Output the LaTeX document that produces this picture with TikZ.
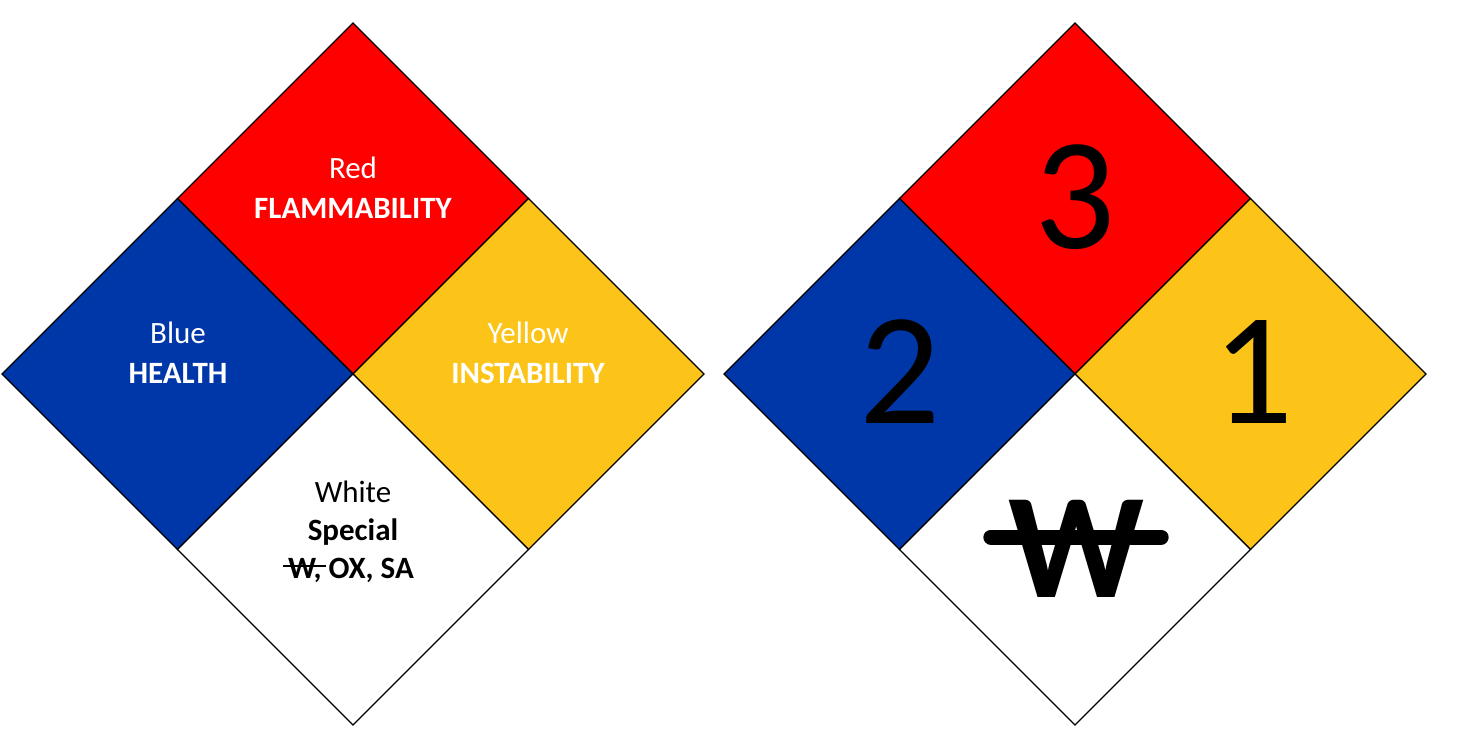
\documentclass[tikz,border=0pt]{standalone}
\usepackage{fontspec}
\setmainfont{Carlito}
\definecolor{nfred}{HTML}{FF0000}
\definecolor{nfblue}{HTML}{0037A8}
\definecolor{nfyellow}{HTML}{FCC419}
\newcommand{\strikeW}{\makebox[0pt][l]{\hspace{-0.17em}\rule[0.36em]{1.4em}{0.07em}}W}
\begin{document}
\begin{tikzpicture}[x=1pt,y=-1pt,
  sq/.style={draw=black,line width=1.3pt,line join=miter},
  lbl/.style={font=\fontsize{31}{36}\selectfont,inner sep=0pt,anchor=base},
  big/.style={font=\fontsize{160}{160}\selectfont,inner sep=0pt,anchor=base}]
\useasboundingbox (0,0) rectangle (1459,755);
\foreach \cx in {353,1075}{
  \filldraw[sq,fill=nfred]    (\cx,23) -- (\cx+175.5,198.5) -- (\cx,374) -- (\cx-175.5,198.5) -- cycle;
  \filldraw[sq,fill=nfblue]   (\cx-175.5,198.5) -- (\cx,374) -- (\cx-175.5,549.5) -- (\cx-351,374) -- cycle;
  \filldraw[sq,fill=nfyellow] (\cx+175.5,198.5) -- (\cx+351,374) -- (\cx+175.5,549.5) -- (\cx,374) -- cycle;
  \filldraw[sq,fill=white]    (\cx,374) -- (\cx+175.5,549.5) -- (\cx,725) -- (\cx-175.5,549.5) -- cycle;
}
% left labels
\node[lbl,text=white] (red1) at (353,178) {Red};
\node[lbl,text=white] (red2) at (353,218) {\bfseries FLAMMABILITY};
\node[lbl,text=white] (blue1) at (178,343) {Blue};
\node[lbl,text=white] (blue2) at (178,383) {\bfseries HEALTH};
\node[lbl,text=white] (yel1) at (528,343) {Yellow};
\node[lbl,text=white] (yel2) at (528,383) {\bfseries INSTABILITY};
\node[lbl] (wh1) at (353,502) {White};
\node[lbl] (wh2) at (353,540) {\bfseries Special};
\node[lbl] (wh3) at (351,578) {\bfseries\strikeW, OX, SA};
% right numbers
\node[big] (n3) at (1075,248) {3};
\node[big] (n2) at (900,423) {2};
\node[big] (n1) at (1253,423) {1};
\node[big] (nw) at (1076,597) {\fontsize{150}{150}\selectfont\bfseries W};
\draw[line width=15pt,line cap=round] (nw.base west) ++(-17,-60) coordinate (wbl) -- ([xshift=17pt,yshift=60pt]nw.base east) coordinate (wbr);
\end{tikzpicture}
\end{document}
